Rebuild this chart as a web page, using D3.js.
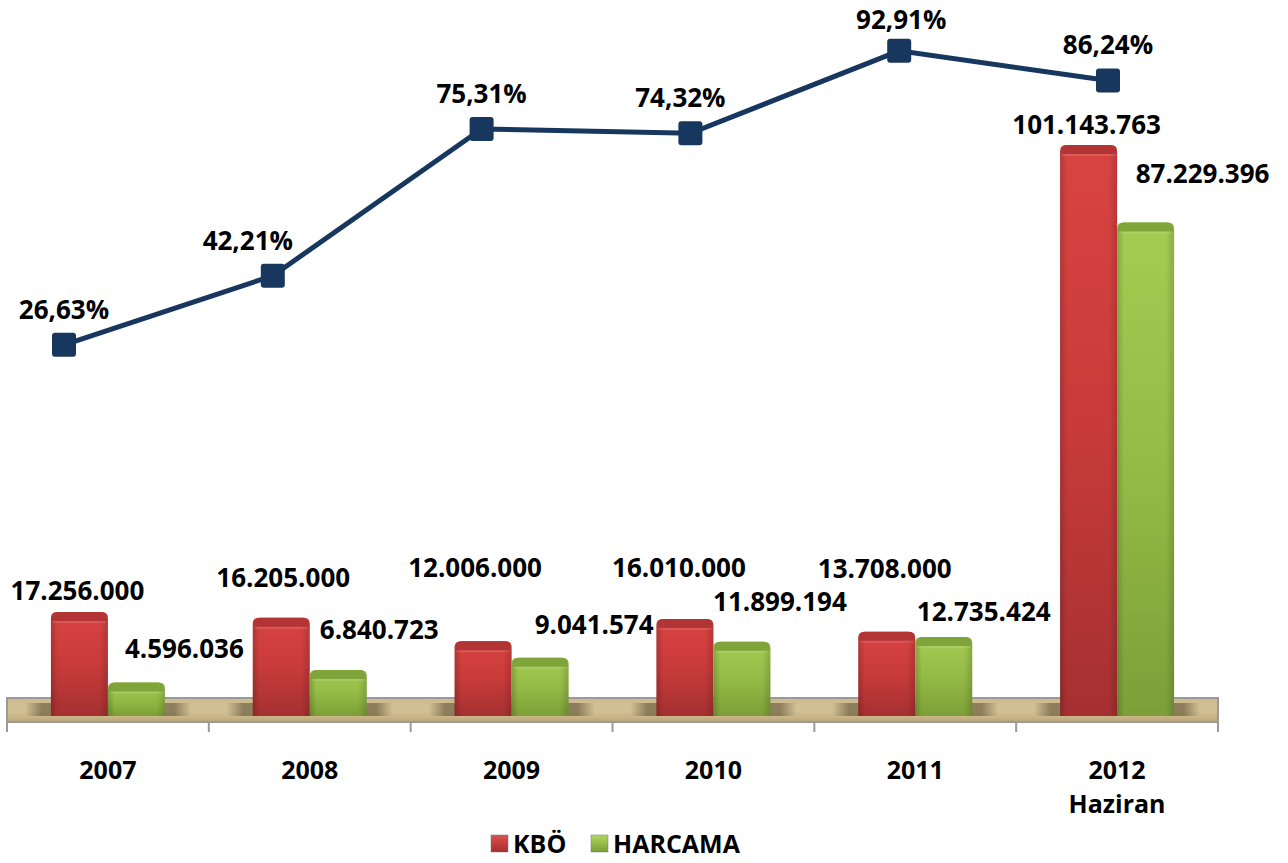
<!DOCTYPE html>
<html>
<head>
<meta charset="utf-8">
<script src="https://cdn.jsdelivr.net/npm/d3@7"></script>
<style>
  html, body { margin: 0; padding: 0; background: #fff; }
  text { font-family: "Open Sans", "Noto Sans", sans-serif; font-weight: 700; fill: #000; }
</style>
</head>
<body>
<script>
// Chart size
const WIDTH = 1288;
const HEIGHT = 863;

// Data
const years = ["2007", "2008", "2009", "2010", "2011", "2012"];
const yearLines = [["2007"], ["2008"], ["2009"], ["2010"], ["2011"], ["2012", "Haziran"]];
const kbo = [17256000, 16205000, 12006000, 16010000, 13708000, 101143763];
const harcama = [4596036, 6840723, 9041574, 11899194, 12735424, 87229396];
const oran = [26.63, 42.21, 75.31, 74.32, 92.91, 86.24];
const kboLabels = ["17.256.000", "16.205.000", "12.006.000", "16.010.000", "13.708.000", "101.143.763"];
const harcamaLabels = ["4.596.036", "6.840.723", "9.041.574", "11.899.194", "12.735.424", "87.229.396"];
const oranLabels = ["26,63%", "42,21%", "75,31%", "74,32%", "92,91%", "86,24%"];
const legendNames = ["KBÖ", "HARCAMA"];

// Label nudges (label placement was moved by hand in the original)
const kboNudge = [[-2, -21], [2, -40], [-8, -73], [-6, -51], [-2, -63], [-2, -20]];
const harcamaNudge = [[48, -33], [41, -40], [54, -33], [38, -40], [40, -25], [57, -48]];
const oranNudge = [[0, 0], [-25, 0], [0, 0], [-10, 0], [2, 4], [0, 0]];

const svg = d3.select("body").append("svg")
    .attr("width", WIDTH).attr("height", HEIGHT);

const defs = svg.append("defs");

function vGrad(id, stops) {
    const g = defs.append("linearGradient").attr("id", id)
        .attr("x1", 0).attr("y1", 0).attr("x2", 0).attr("y2", 1);
    stops.forEach(s => g.append("stop").attr("offset", s[0]).attr("stop-color", s[1]));
}
function hGrad(id, stops) {
    const g = defs.append("linearGradient").attr("id", id)
        .attr("x1", 0).attr("y1", 0).attr("x2", 1).attr("y2", 0);
    stops.forEach(s => g.append("stop").attr("offset", s[0]).attr("stop-color", s[1][0]).attr("stop-opacity", s[1][1]));
}
vGrad("redBody", [[0, "#d84442"], [0.5, "#c83b3a"], [1, "#a53031"]]);
vGrad("greenBody", [[0, "#a4cc52"], [0.5, "#94bb46"], [1, "#7c9f38"]]);
hGrad("sideShade", [[0, ["#000", 0.18]], [0.12, ["#000", 0]], [0.85, ["#000", 0]], [1, ["#000", 0.15]]]);
vGrad("floorFill", [[0, "#cdb98e"], [0.5, "#d3c196"], [0.8, "#c9b487"], [1, "#b8a478"]]);
hGrad("floorShadow", [[0, ["#3a2e18", 0]], [0.1, ["#3a2e18", 0.45]], [0.9, ["#3a2e18", 0.45]], [1, ["#3a2e18", 0]]]);

// Scales
const x = d3.scaleBand().domain(years).range([7, 1218]);
const barW = 57;
const yBar = d3.scaleLinear().domain([0, 101143763]).range([708, 145]);
const floorDepth = 8;
const xLine = d3.scalePoint().domain(years).range([64, 1108]);
const yLine = d3.scaleLinear().domain([0, 100]).range([463, 19.4]);

// Floor
const floorTop = 698, floorBottom = 722;
svg.append("rect")
    .attr("x", x.range()[0]).attr("y", floorTop)
    .attr("width", x.range()[1] - x.range()[0]).attr("height", floorBottom - floorTop)
    .attr("fill", "url(#floorFill)");

// shadows behind each bar pair
svg.append("g").selectAll("rect").data(years).join("rect")
    .attr("x", d => x(d) + x.bandwidth() / 2 - barW - 26)
    .attr("y", floorTop + 5)
    .attr("width", barW * 2 + 52)
    .attr("height", floorBottom - floorTop - 11)
    .attr("fill", "url(#floorShadow)");

svg.append("rect")
    .attr("x", x.range()[0]).attr("y", floorTop)
    .attr("width", x.range()[1] - x.range()[0]).attr("height", floorBottom - floorTop)
    .attr("fill", "none")
    .attr("stroke", "#9a9a9a").attr("stroke-width", 2);

// Axis ticks at the category boundaries
const bounds = years.map(d => x(d)).concat([x.range()[1]]);
svg.append("g").selectAll("line").data(bounds).join("line")
    .attr("x1", d => d).attr("x2", d => d)
    .attr("y1", (d, i) => (i === 0 || i === bounds.length - 1) ? floorTop : floorBottom)
    .attr("y2", floorBottom + 10)
    .attr("stroke", "#9a9a9a").attr("stroke-width", 2);

// Bars
function barPath(x0, w, top, bottom, r) {
    return `M${x0},${bottom}V${top + r}Q${x0},${top} ${x0 + r},${top}H${x0 + w - r}Q${x0 + w},${top} ${x0 + w},${top + r}V${bottom}Z`;
}
function drawBars(values, fill, capColor, offset) {
    const g = svg.append("g");
    const bottom = yBar(0) + floorDepth;
    values.forEach((v, i) => {
        const bx = x(years[i]) + x.bandwidth() / 2 + offset;
        const top = yBar(v);
        g.append("path").attr("d", barPath(bx, barW, top, bottom, 6)).attr("fill", fill);
        g.append("path").attr("d", barPath(bx, barW, top, bottom, 6)).attr("fill", "url(#sideShade)");
        g.append("path").attr("d", barPath(bx + 1, barW - 2, top, top + 9, 6)).attr("fill", capColor);
        g.append("rect").attr("x", bx + 2).attr("y", top + 9).attr("width", barW - 4).attr("height", 2)
            .attr("fill", "#fff").attr("opacity", 0.12);
    });
}
drawBars(kbo, "url(#redBody)", "#b33434", -barW);
drawBars(harcama, "url(#greenBody)", "#7fa43a", 0);

// Bar labels
function drawBarLabels(labels, values, nudge, offset) {
    svg.append("g").selectAll("text").data(labels).join("text")
        .attr("x", (d, i) => x(years[i]) + x.bandwidth() / 2 + offset + barW / 2 + nudge[i][0])
        .attr("y", (d, i) => yBar(values[i]) + nudge[i][1] + 9)
        .attr("text-anchor", "middle")
        .attr("font-size", 26)
        .text(d => d);
}
drawBarLabels(kboLabels, kbo, kboNudge, -barW);
drawBarLabels(harcamaLabels, harcama, harcamaNudge, 0);

// Line
const line = d3.line().x((d, i) => xLine(years[i])).y(d => yLine(d));
svg.append("path").datum(oran)
    .attr("d", line)
    .attr("fill", "none")
    .attr("stroke", "#17375e").attr("stroke-width", 5);
svg.append("g").selectAll("rect").data(oran).join("rect")
    .attr("x", (d, i) => xLine(years[i]) - 12)
    .attr("y", d => yLine(d) - 12)
    .attr("width", 24).attr("height", 24)
    .attr("rx", 3)
    .attr("fill", "#17375e");
svg.append("g").selectAll("text").data(oranLabels).join("text")
    .attr("x", (d, i) => xLine(years[i]) + oranNudge[i][0])
    .attr("y", (d, i) => yLine(oran[i]) - 26 + oranNudge[i][1])
    .attr("text-anchor", "middle")
    .attr("font-size", 26)
    .text(d => d);

// Category labels
const cat = svg.append("g").selectAll("text").data(yearLines).join("text")
    .attr("x", (d, i) => x(years[i]) + x.bandwidth() / 2)
    .attr("y", 779)
    .attr("text-anchor", "middle")
    .attr("font-size", 25);
cat.selectAll("tspan").data(d => d).join("tspan")
    .attr("x", function () { return d3.select(this.parentNode).attr("x"); })
    .attr("dy", (d, i) => i === 0 ? 0 : 34)
    .text(d => d);

// Legend
vGrad("legRed", [[0, "#e05050"], [1, "#a52e2e"]]);
vGrad("legGreen", [[0, "#b0d860"], [1, "#7a9e36"]]);
const legend = svg.append("g");
const legX = [491, 591];
const legFill = ["url(#legRed)", "url(#legGreen)"];
legendNames.forEach((n, i) => {
    legend.append("rect").attr("x", legX[i]).attr("y", 835).attr("width", 17).attr("height", 17)
        .attr("fill", legFill[i]).attr("stroke", "#777").attr("stroke-width", 0.5);
    legend.append("text").attr("x", legX[i] + 22).attr("y", 853)
        .attr("font-size", 25).text(n);
});
</script>
</body>
</html>
